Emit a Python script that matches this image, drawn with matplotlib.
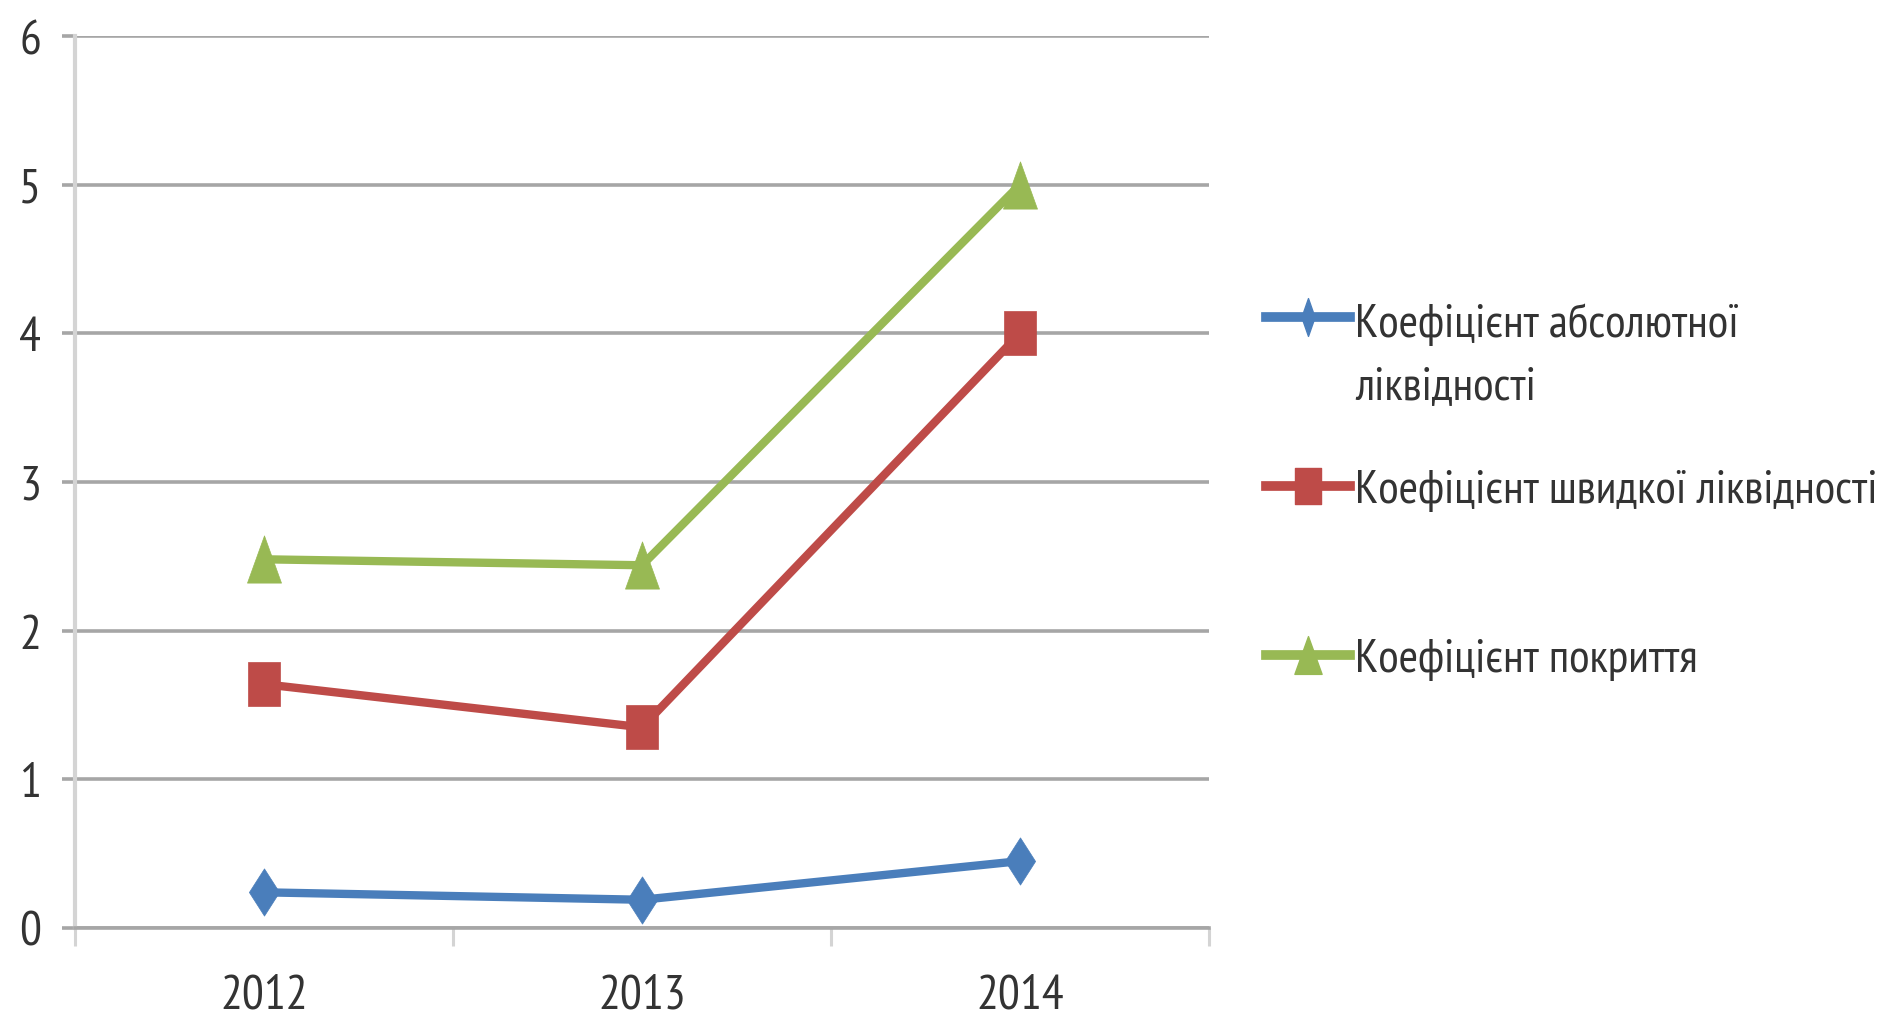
import matplotlib
matplotlib.use("Agg")
import matplotlib.pyplot as plt
from matplotlib.path import Path
from matplotlib.lines import Line2D
from matplotlib.ticker import FixedLocator

plt.rcParams['font.family'] = ['PT Sans Narrow', 'DejaVu Sans']

# ---- data ----
years = ["2012", "2013", "2014"]
abs_liq = [0.24, 0.19, 0.45]
quick_liq = [1.64, 1.35, 4.0]
coverage = [2.48, 2.44, 5.0]
labels = ["Коефіцієнт абсолютної\nліквідності",
          "Коефіцієнт швидкої ліквідності",
          "Коефіцієнт покриття"]
y_ticks = [0, 1, 2, 3, 4, 5, 6]

# ---- styles ----
c_blue = '#4a7ebb'
c_red = '#be4b48'
c_green = '#98b954'
text_c = '#333333'
grid_c = '#a6a6a6'
FS = 35
FS_LEG = 34

def mk(verts):
    codes = [Path.MOVETO] + [Path.LINETO] * (len(verts) - 2) + [Path.CLOSEPOLY]
    return Path(verts, codes)

diamond = mk([(0, 1), (0.64, 0), (0, -1), (-0.64, 0), (0, 1)])
square = mk([(-0.72, -1), (0.72, -1), (0.72, 1), (-0.72, 1), (-0.72, -1)])
triangle = mk([(0, 1), (0.72, -1), (-0.72, -1), (0, 1)])
diamond_leg = mk([(0, 1), (0.35, 0), (0, -1), (-0.35, 0), (0, 1)])

fig = plt.figure(figsize=(18.86, 10.20), dpi=100)
ax = fig.add_axes([75 / 1886, 1 - 929 / 1020, (1209 - 75) / 1886, (929 - 37) / 1020])

x = [i + 0.5 for i in range(len(years))]
series = [(abs_liq, c_blue, diamond, 34, diamond_leg),
          (quick_liq, c_red, square, 32, square),
          (coverage, c_green, triangle, 34, triangle)]
for vals, col, m, ms, _ in series:
    ax.plot(x, vals, color=col, lw=6, marker=m, markersize=ms,
            markerfacecolor=col, markeredgecolor=col, markeredgewidth=0.5,
            solid_joinstyle='round', zorder=3, clip_on=False)

ax.set_xlim(0, len(years))
ax.set_ylim(0, 6)
ax.set_yticks(y_ticks)
ax.set_yticklabels([str(v) for v in y_ticks])
ax.set_xticks(x)
ax.set_xticklabels(years)
ax.xaxis.set_minor_locator(FixedLocator([0, 1, 2, 3]))

ax.grid(axis='y', color=grid_c, lw=2.6, zorder=1)
ax.set_axisbelow(True)
for s in ['top', 'right']:
    ax.spines[s].set_visible(False)
ax.spines['left'].set_color('#d4d4d4')
ax.spines['left'].set_linewidth(3)
ax.spines['bottom'].set_color(grid_c)
ax.spines['bottom'].set_linewidth(2.6)

ax.tick_params(axis='y', which='major', length=9.5, width=2.6, color=grid_c,
               labelsize=FS, labelcolor=text_c, pad=15)
ax.tick_params(axis='x', which='major', length=0, labelsize=FS,
               labelcolor=text_c, pad=33)
ax.tick_params(axis='x', which='minor', length=13, width=2.2, color='#d4d4d4')

# ---- legend (drawn manually to match layout) ----
leg_handle_y = [318, 487, 656]
leg_text_base = [399, 503, 672]
for (vals, col, m, ms, lm), lab, ypx, bpx in zip(series, labels, leg_handle_y, leg_text_base):
    yf = 1 - ypx / 1020
    fig.add_artist(Line2D([1266 / 1886, 1350 / 1886], [yf, yf],
                          transform=fig.transFigure, color=col, lw=7))
    fig.add_artist(Line2D([1308 / 1886], [yf], transform=fig.transFigure,
                          marker=lm, markersize=ms * 0.8, color=col, lw=0,
                          markeredgecolor=col))
    fig.text(1355 / 1886, 1 - bpx / 1020, lab, fontsize=FS_LEG,
             color=text_c, va='baseline', ha='left', linespacing=1.6)

fig.savefig("out.png", dpi=100, facecolor='white')
